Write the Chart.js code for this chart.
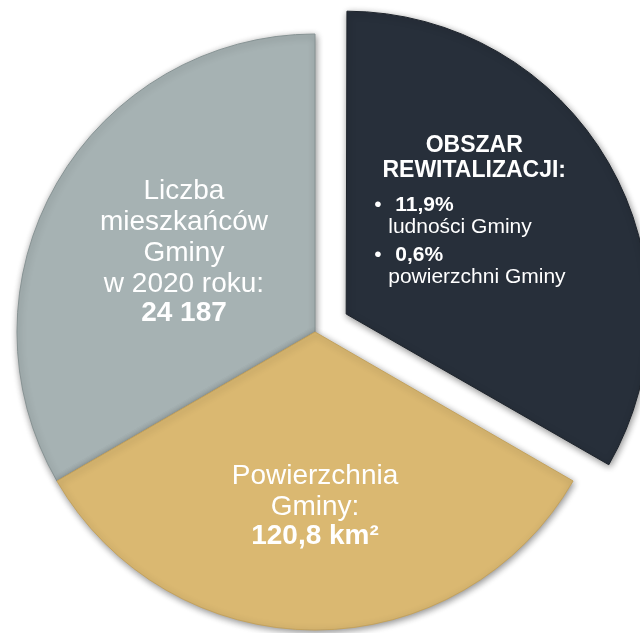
<!DOCTYPE html>
<html>
<head>
<meta charset="utf-8">
<script src="https://cdn.jsdelivr.net/npm/chart.js@4/dist/chart.umd.min.js"></script>
<style>
    body { margin: 0; background: #ffffff; }
    #wrap { width: 640px; height: 633px; }
</style>
</head>
<body>
<div id="wrap"><canvas id="pie" width="640" height="633"></canvas></div>
<script>
// slices, in drawing order (starting at 8 o'clock, clockwise)
var sliceNames = ['Liczba mieszkańców', 'Obszar rewitalizacji', 'Powierzchnia Gminy'];
var sliceValues = [1, 1, 1];
var sliceColors = ['#a6b2b3', '#272f3a', '#dab871'];
var sliceEdges = ['#879394', '#1d232b', '#c4a25c'];
var sliceOffsets = [0, 144, 0];

// text inside the slices
var grayLines = ['Liczba', 'mieszkańców', 'Gminy', 'w 2020 roku:', '24 187'];
var beigeLines = ['Powierzchnia', 'Gminy:', '120,8 km²'];
var darkTitle = ['OBSZAR', 'REWITALIZACJI:'];
var darkBullets = [
    { value: '11,9%', text: 'ludności Gminy' },
    { value: '0,6%', text: 'powierzchni Gminy' }
];

var FONT = '"Liberation Sans", Arial, sans-serif';

/// SUMMARY
///        soft drop shadow under the slices
var shadowPlugin = {
    id: 'shadow',
    beforeDatasetsDraw: function (chart) {
        var ctx = chart.ctx;
        ctx.save();
        ctx.shadowColor = 'rgba(0, 0, 0, 0.45)';
        ctx.shadowBlur = 7;
        ctx.shadowOffsetX = 1;
        ctx.shadowOffsetY = 2;
    },
    afterDatasetsDraw: function (chart) {
        chart.ctx.restore();
    }
};

// middle of a slice, moved out with the slice when it is offset
function anchorOf(arc, offset) {
    var half = (arc.startAngle + arc.endAngle) / 2;
    var d = arc.outerRadius / 2 + (offset || 0) / 4;
    return { x: arc.x + Math.cos(half) * d, y: arc.y + Math.sin(half) * d };
}

/// SUMMARY
///        write the labels into the slices
var labelPlugin = {
    id: 'sliceLabels',
    afterDatasetsDraw: function (chart) {
        var ctx = chart.ctx;
        var arcs = chart.getDatasetMeta(0).data;
        ctx.save();
        ctx.fillStyle = '#ffffff';
        ctx.textBaseline = 'alphabetic';

        // gray slice
        var a = anchorOf(arcs[0], sliceOffsets[0]);
        ctx.textAlign = 'center';
        var grayDy = [-59, -28, 3, 34, 63];
        for (var i = 0; i < grayLines.length; i++) {
            ctx.font = (i == grayLines.length - 1 ? 'bold ' : '') + '28px ' + FONT;
            ctx.fillText(grayLines[i], a.x - 2, a.y + grayDy[i]);
        }

        // beige slice
        var b = anchorOf(arcs[2], sliceOffsets[2]);
        var beigeDy = [3, 34, 63];
        for (var j = 0; j < beigeLines.length; j++) {
            ctx.font = (j == beigeLines.length - 1 ? 'bold ' : '') + '28px ' + FONT;
            ctx.fillText(beigeLines[j], b.x, b.y + beigeDy[j]);
        }

        // dark slice
        var c = anchorOf(arcs[1], sliceOffsets[1]);
        ctx.font = 'bold 23px ' + FONT;
        ctx.fillText(darkTitle[0], c.x - 1, c.y - 88);
        ctx.fillText(darkTitle[1], c.x - 1, c.y - 63);
        ctx.textAlign = 'left';
        var rowY = c.y - 29;
        darkBullets.forEach(function (item) {
            ctx.font = '21px ' + FONT;
            ctx.fillText('•', c.x - 101, rowY);
            ctx.font = 'bold 21px ' + FONT;
            ctx.fillText(item.value, c.x - 80, rowY);
            ctx.font = '21px ' + FONT;
            ctx.fillText(item.text, c.x - 87, rowY + 22);
            rowY += 50;
        });
        ctx.restore();
    }
};

const data = {
    labels: sliceNames,
    datasets: [{
        data: sliceValues,
        backgroundColor: sliceColors,
        borderColor: sliceEdges,
        borderWidth: 1,
        offset: sliceOffsets,
        clip: false
    }]
};

const config = {
    type: 'pie',
    data: data,
    options: {
        responsive: false,
        animation: false,
        rotation: -120,
        radius: 298,
        layout: {
            padding: { left: 0, right: 10, top: 31, bottom: 0 }
        },
        plugins: {
            legend: { display: false },
            tooltip: { enabled: false }
        }
    },
    plugins: [shadowPlugin, labelPlugin]
};

const pieChart = new Chart(document.getElementById('pie'), config);
</script>
</body>
</html>
